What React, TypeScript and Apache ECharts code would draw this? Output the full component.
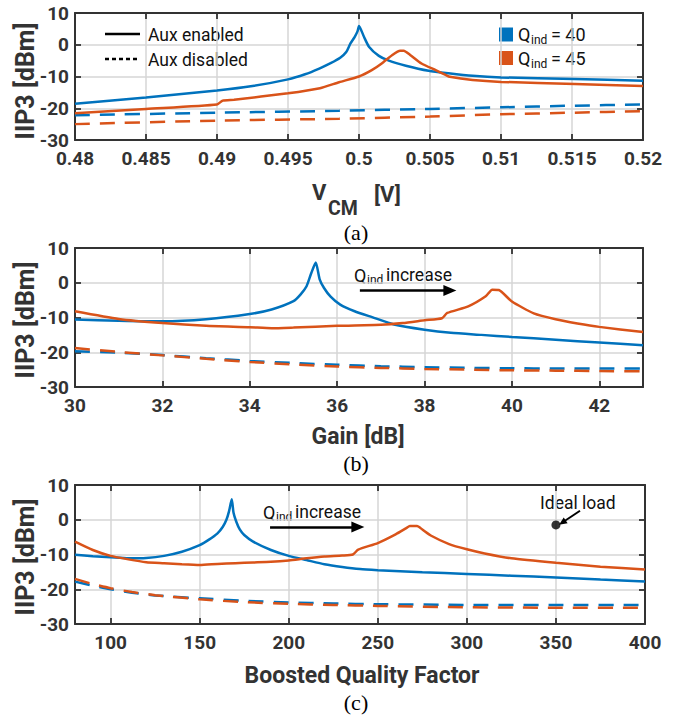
import React, { useEffect, useRef } from 'react';
import * as echarts from 'echarts';

const BLUE = '#0072BD';
const ORANGE = '#D95319';

// ---------- Panel (a): IIP3 vs V_CM ----------
const aVcmOn40 = [0.48, 0.485, 0.49, 0.4925, 0.495, 0.4962, 0.4972, 0.498, 0.4987, 0.4991, 0.4994, 0.4997, 0.4999, 0.5, 0.50035, 0.5007, 0.5014, 0.5021, 0.5033, 0.5049, 0.5063, 0.508, 0.51, 0.5152, 0.52];
const aIip3On40 = [-18.6, -16.6, -14.4, -13.0, -10.9, -9.3, -7.5, -5.8, -4.0, -2.3, 0.4, 2.5, 4.3, 5.9, 2.5, -0.6, -3.5, -5.0, -6.6, -8.2, -9.0, -9.8, -10.3, -10.8, -11.3];
const aVcmOn45 = [0.48, 0.485, 0.49, 0.4904, 0.4912, 0.495, 0.49725, 0.4986, 0.5, 0.5009, 0.5016, 0.50235, 0.5029, 0.50315, 0.5036, 0.5044, 0.5054, 0.5061, 0.5064, 0.508, 0.51, 0.5152, 0.52];
const aIip3On45 = [-21.6, -20.2, -18.8, -17.6, -17.3, -15.3, -13.7, -11.8, -10.0, -8.0, -5.9, -3.2, -1.9, -1.9, -3.2, -5.9, -8.0, -9.5, -10.1, -11.1, -11.7, -12.4, -13.0];
const aVcmOff = [0.48, 0.49, 0.4986, 0.505, 0.51, 0.515, 0.52];
const aIip3Off40 = [-22.2, -21.4, -20.8, -20.2, -19.7, -19.2, -18.8];
const aIip3Off45 = [-25.0, -23.9, -23.3, -22.6, -21.9, -21.4, -20.9];
const aTicks = [0.48, 0.485, 0.49, 0.495, 0.5, 0.505, 0.51, 0.515, 0.52];

// ---------- Panel (b): IIP3 vs Gain ----------
const bGainOn40 = [30, 31, 32, 33, 34, 34.5, 35, 35.16, 35.3, 35.4, 35.51, 35.6, 35.7, 35.85, 36.07, 36.4, 36.8, 37.3, 38, 38.6, 39.3, 40, 41, 42, 43];
const bIip3On40 = [-10.6, -10.9, -11.1, -10.5, -9.0, -7.7, -5.3, -3.4, -1.0, 2.5, 5.8, 1.0, -1.5, -4.0, -6.3, -8.2, -9.9, -12.0, -13.5, -14.4, -15.0, -15.6, -16.4, -17.2, -18.0];
const bGainOn45 = [30, 31, 32, 33, 34, 34.5, 35, 36, 37, 37.5, 38, 38.4, 38.52, 39, 39.4, 39.55, 39.7, 40, 40.5, 41, 41.5, 42, 43];
const bIip3On45 = [-8.2, -10.4, -11.6, -12.4, -12.8, -13.1, -12.9, -12.4, -12.1, -11.6, -10.8, -10.2, -8.7, -6.8, -3.9, -2.0, -2.1, -5.4, -8.8, -10.5, -11.7, -12.7, -14.2];
const bGainOff = [30, 31, 32, 33, 34, 35, 36, 37, 38, 39, 40, 41, 42, 43];
const bIip3Off40 = [-19.7, -20.1, -20.8, -21.7, -22.5, -23.1, -23.6, -24.0, -24.3, -24.5, -24.6, -24.7, -24.7, -24.7];
const bIip3Off45 = [-18.8, -19.9, -20.9, -21.9, -22.8, -23.5, -24.1, -24.5, -24.8, -25.0, -25.2, -25.3, -25.4, -25.5];
const bTicks = [30, 32, 34, 36, 38, 40, 42];

// ---------- Panel (c): IIP3 vs Boosted Quality Factor ----------
const cQOn40 = [80, 90, 100, 110, 120, 130, 140, 150, 155, 160, 163, 165, 166.5, 168, 169, 170.5, 172.5, 175, 180, 190, 200, 210, 220, 230, 240, 250, 275, 300, 325, 350, 375, 400];
const cIip3On40 = [-10.1, -10.5, -10.8, -11.1, -11.0, -10.4, -9.2, -7.3, -5.8, -3.9, -2.0, 0.0, 2.5, 5.9, 2.0, -0.5, -2.8, -4.4, -6.3, -8.7, -10.4, -11.6, -12.8, -13.6, -14.2, -14.5, -15.1, -15.6, -16.1, -16.6, -17.2, -17.8];
const cQOn45 = [80, 90, 100, 110, 120, 130, 140, 150, 160, 170, 180, 190, 200, 210, 220, 230, 236, 239, 250, 260, 266, 268, 272, 275, 280, 290, 300, 310, 325, 350, 375, 400];
const cIip3On45 = [-6.3, -8.7, -10.4, -11.4, -12.2, -12.5, -12.8, -13.0, -12.7, -12.5, -12.3, -12.1, -11.7, -11.1, -10.6, -10.3, -10.0, -8.6, -6.7, -4.2, -2.4, -1.8, -1.8, -2.8, -4.6, -7.0, -8.5, -9.7, -11.1, -12.4, -13.5, -14.3];
const cQOff = [80, 90, 100, 112, 125, 150, 175, 200, 225, 250, 300, 350, 400];
const cIip3Off40 = [-17.8, -19.0, -20.0, -21.0, -21.8, -22.6, -23.3, -23.8, -24.1, -24.3, -24.5, -24.5, -24.5];
const cIip3Off45 = [-17.0, -18.5, -19.7, -20.8, -21.7, -22.9, -23.7, -24.2, -24.5, -24.8, -25.2, -25.3, -25.3];
const cTicks = [100, 150, 200, 250, 300, 350, 400];
const idealQ = [350];
const idealIip3 = [-1.5];

// annotation arrows (data coordinates)
const bArrow = [[36.52, -2.2], [38.58, -2.2]];
const cArrow = [[189.5, -2.1], [238.8, -2.1]];
const idealArrow = [[363.5, 2.6], [353.6, -0.8]];

const yMin = -30;
const yMax = 10;
const yStep = 10;

const zip = (xs: number[], ys: number[]) => xs.map((x, i) => [x, ys[i]]);

const AX = '#333333';
const FONT = 'Roboto';

export default function App() {
  const ref = useRef<HTMLDivElement>(null);
  useEffect(() => {
    if (!ref.current) return;
    const chart = echarts.init(ref.current, null, { renderer: 'svg' });

    const grids = [
      { left: 75, top: 13, width: 568, height: 127 },
      { left: 75, top: 248, width: 568, height: 139 },
      { left: 75, top: 485, width: 570, height: 139 },
    ];
    const xr = [
      { min: 0.48, max: 0.52, ticks: aTicks, fmt: (v: number) => String(Number(v.toFixed(3))) },
      { min: 30, max: 43, ticks: bTicks, fmt: (v: number) => String(v) },
      { min: 80, max: 400, ticks: cTicks, fmt: (v: number) => String(v) },
    ];
    const frame = { show: true, onZero: false, lineStyle: { color: AX, width: 2 } };
    const tickStyle = { color: AX, width: 1.8 };
    const split = { show: true, lineStyle: { color: '#d6d6d6', width: 1.5 } };
    const lbl = { color: AX, fontFamily: FONT, fontWeight: 'bold' as const, fontSize: 19 };

    const xAxis: any[] = [];
    const yAxis: any[] = [];
    grids.forEach((g, i) => {
      xAxis.push({
        type: 'value', gridIndex: i, position: 'bottom', min: xr[i].min, max: xr[i].max,
        axisLine: frame,
        axisTick: { show: true, inside: true, length: 6, lineStyle: tickStyle, customValues: xr[i].ticks },
        axisLabel: { ...lbl, margin: 9, customValues: xr[i].ticks, formatter: xr[i].fmt },
        splitLine: split,
      });
      xAxis.push({
        type: 'value', gridIndex: i, position: 'top', min: xr[i].min, max: xr[i].max,
        axisLine: frame,
        axisTick: { show: true, inside: true, length: 6, lineStyle: tickStyle, customValues: xr[i].ticks },
        axisLabel: { show: false },
        splitLine: { show: false },
      });
      yAxis.push({
        type: 'value', gridIndex: i, position: 'left', min: yMin, max: yMax, interval: yStep,
        axisLine: frame,
        axisTick: { show: true, inside: true, length: 6, lineStyle: tickStyle },
        axisLabel: { ...lbl, margin: 6 },
        splitLine: split,
      });
      yAxis.push({
        type: 'value', gridIndex: i, position: 'right', min: yMin, max: yMax, interval: yStep,
        axisLine: frame,
        axisTick: { show: true, inside: true, length: 6, lineStyle: tickStyle },
        axisLabel: { show: false },
        splitLine: { show: false },
      });
    });

    const line = (p: number, xs: number[], ys: number[], color: string, dashed: boolean, extra: any = {}) => ({
      type: 'line', xAxisIndex: p * 2, yAxisIndex: p * 2, data: zip(xs, ys),
      showSymbol: false, symbol: 'none', silent: true,
      smooth: 0.2,
      lineStyle: { color, width: 2.5, type: dashed ? [15, 10] : 'solid' },
      itemStyle: { color },
      ...extra,
    });
    const arrow = (coords: number[][], size: number[], width: number) => ({
      silent: true,
      symbol: ['none', 'triangle'],
      symbolSize: size,
      label: { show: false },
      lineStyle: { color: '#000', width, type: 'solid' },
      itemStyle: { color: '#000' },
      emphasis: { disabled: true },
      data: [[{ coord: coords[0] }, { coord: coords[1] }]],
    });

    const series: any[] = [
      line(0, aVcmOn40, aIip3On40, BLUE, false),
      line(0, aVcmOff, aIip3Off40, BLUE, true),
      line(0, aVcmOn45, aIip3On45, ORANGE, false),
      line(0, aVcmOff, aIip3Off45, ORANGE, true),
      line(1, bGainOn40, bIip3On40, BLUE, false),
      line(1, bGainOff, bIip3Off40, BLUE, true),
      line(1, bGainOn45, bIip3On45, ORANGE, false),
      line(1, bGainOff, bIip3Off45, ORANGE, true, { markLine: arrow(bArrow, [11, 13], 2.5) }),
      line(2, cQOn40, cIip3On40, BLUE, false),
      line(2, cQOff, cIip3Off40, BLUE, true),
      line(2, cQOn45, cIip3On45, ORANGE, false),
      line(2, cQOff, cIip3Off45, ORANGE, true, { markLine: arrow(cArrow, [11, 13], 2.5) }),
      {
        type: 'scatter', xAxisIndex: 4, yAxisIndex: 4, silent: true,
        data: zip(idealQ, idealIip3), symbol: 'circle', symbolSize: 9,
        itemStyle: { color: '#000' },
        markLine: arrow(idealArrow, [7, 8], 2),
      },
    ];

    const txt = (text: string, x: number, y: number, size: number, opts: any = {}) => ({
      type: 'text', x, y, silent: true, rotation: opts.rotation || 0,
      style: {
        text, fill: opts.fill || '#111', fontFamily: opts.family || FONT,
        fontWeight: opts.weight || 'normal', fontSize: size,
        align: opts.align || 'left', verticalAlign: 'middle',
      },
    });
    const bold = { weight: 'bold', fill: AX };
    const boldC = { weight: 'bold', fill: AX, align: 'center' };

    const graphic: any[] = [
      // legend: line styles
      { type: 'line', silent: true, shape: { x1: 105, y1: 34, x2: 140, y2: 34 }, style: { stroke: '#000', lineWidth: 2.5 } },
      txt('Aux enabled', 148, 35, 17.5),
      { type: 'line', silent: true, shape: { x1: 105, y1: 59, x2: 140, y2: 59 }, style: { stroke: '#000', lineWidth: 2.5, lineDash: [4, 3] } },
      txt('Aux disabled', 148, 60, 17.5),
      // legend: colours
      { type: 'rect', silent: true, shape: { x: 499, y: 27.5, width: 14, height: 14 }, style: { fill: BLUE } },
      txt('Q', 518, 34.5, 18),
      txt('ind', 531, 40, 12),
      txt('= 40', 551, 34.5, 18),
      { type: 'rect', silent: true, shape: { x: 499, y: 51, width: 14, height: 14 }, style: { fill: ORANGE } },
      txt('Q', 518, 58, 18),
      txt('ind', 531, 63.5, 12),
      txt('= 45', 551, 58, 18),
      // annotations
      txt('Q', 354, 275, 18),
      txt('ind', 367, 280, 12),
      txt('increase', 386, 275, 17.5),
      txt('Q', 263, 512, 18),
      txt('ind', 276, 517, 12),
      txt('increase', 295, 512, 17.5),
      txt('Ideal load', 540, 503, 17.5),
      // y titles
      txt('IIP3 [dBm]', 25, 81, 25, { ...boldC, rotation: Math.PI / 2 }),
      txt('IIP3 [dBm]', 25, 320, 25, { ...boldC, rotation: Math.PI / 2 }),
      txt('IIP3 [dBm]', 25, 557, 25, { ...boldC, rotation: Math.PI / 2 }),
      // x titles
      txt('V', 312, 192, 22, bold),
      txt('CM', 328, 208, 19.5, bold),
      txt('[V]', 374, 194, 22, bold),
      txt('Gain [dB]', 358, 436, 23, boldC),
      txt('Boosted Quality Factor', 362, 675, 23, boldC),
      // panel captions
      txt('(a)', 356, 232, 22, { family: 'Liberation Serif', fill: '#000', align: 'center' }),
      txt('(b)', 356, 463, 22, { family: 'Liberation Serif', fill: '#000', align: 'center' }),
      txt('(c)', 356, 702, 22, { family: 'Liberation Serif', fill: '#000', align: 'center' }),
    ];

    chart.setOption({
      animation: false,
      backgroundColor: '#fff',
      grid: grids.map((g) => ({ ...g, containLabel: false })),
      xAxis,
      yAxis,
      series,
      graphic,
    });
    return () => chart.dispose();
  }, []);

  return <div ref={ref} style={{ position: 'absolute', left: 0, top: 0, width: 679, height: 716 }} />;
}
